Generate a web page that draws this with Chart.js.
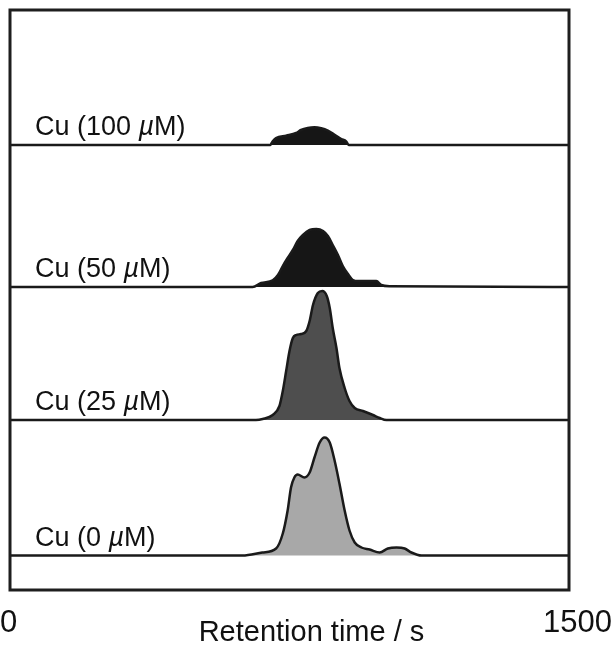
<!DOCTYPE html>
<html>
<head>
<meta charset="utf-8">
<script src="https://cdn.jsdelivr.net/npm/chart.js@4.4.1/dist/chart.umd.min.js"></script>
<style>
  html, body { margin: 0; background: #fff; }
  canvas { display: block; }
</style>
</head>
<body>
<canvas id="chrom" width="615" height="650"></canvas>
<script>
/* Cu-dependent retention chromatograms, stacked traces */

const concLabels  = ['0', '25', '50', '100'];      // µM, bottom to top
const traceOffset = [34.5, 170, 303, 445];         // vertical stacking, signal units

const cu0Time     = [0, 624, 677, 714, 732, 745, 754, 763, 772, 790, 804, 817, 831, 844, 858, 871, 884, 898, 911, 925, 943, 965, 992, 1014, 1037, 1059, 1077, 1104, 1500];
const cu0Signal   = [0, 0, 3, 7, 22, 45, 68, 78, 81, 78, 83, 98, 113, 118, 113, 95, 72, 45, 25, 13, 8, 6, 3, 7, 8, 7, 3, 0, 0];

const cu25Time    = [0, 660, 678, 705, 723, 732, 741, 750, 759, 768, 781, 795, 804, 813, 826, 838, 850, 858, 866, 876, 884, 898, 911, 925, 947, 974, 992, 1010, 1500];
const cu25Signal  = [0, 0, 1, 5, 14, 29, 49, 69, 82, 85, 86, 89, 99, 115, 127, 129, 124, 112, 92, 72, 52, 32, 19, 12, 9, 5, 2, 0, 0];

const cu50Time    = [0, 651, 674, 705, 719, 732, 745, 759, 772, 786, 804, 822, 840, 853, 866, 880, 893, 907, 920, 934, 983, 996, 1019, 1500];
const cu50Signal  = [0, 0, 4, 6.7, 12, 21, 29, 37, 46, 52, 57, 58, 56, 51, 42, 32, 21, 13, 7, 6, 6, 2, 0.7, 0];

const cu100Time   = [0, 698, 705, 714, 741, 768, 781, 799, 817, 835, 853, 871, 889, 902, 909, 1500];
const cu100Signal = [0, 0, 3.7, 7, 9.3, 12, 15, 17, 17.7, 16.7, 14.3, 10.3, 6, 3.7, 0, 0];

const xTicks = [0, 1500];

const traces = [
  { t: cu0Time,   s: cu0Signal,   fill: '#a8a8a8' },
  { t: cu25Time,  s: cu25Signal,  fill: '#4e4e4e' },
  { t: cu50Time,  s: cu50Signal,  fill: '#161616' },
  { t: cu100Time, s: cu100Signal, fill: '#161616' },
];

const FONT = '"Liberation Sans", Arial, Helvetica, sans-serif';

const datasets = traces.map((tr, i) => ({
  label: `Cu (${concLabels[i]} µM)`,
  data: tr.t.map((t, k) => ({ x: t, y: traceOffset[i] + tr.s[k] })),
  borderColor: '#1a1a1a',
  borderWidth: 2.5,
  backgroundColor: tr.fill,
  fill: { value: traceOffset[i] },
  pointRadius: 0,
  cubicInterpolationMode: 'monotone',
}));

// frame, trace labels and axis text
const frameText = {
  id: 'frameText',
  afterDatasetsDraw(chart) {
    const { ctx, chartArea: a, scales: { x, y } } = chart;
    ctx.save();
    ctx.strokeStyle = '#1e1e1e';
    ctx.lineWidth = 3;
    ctx.strokeRect(a.left, a.top, a.right - a.left, a.bottom - a.top);

    ctx.fillStyle = '#111';
    ctx.textBaseline = 'alphabetic';
    concLabels.forEach((c, i) => {
      const by = y.getPixelForValue(traceOffset[i]) - 10;
      let px = a.left + 25;
      const parts = [[`Cu (${c} `, 'normal'], ['µ', 'italic'], ['M)', 'normal']];
      parts.forEach(([txt, st]) => {
        ctx.font = `${st} 27px ${FONT}`;
        ctx.fillText(txt, px, by);
        px += ctx.measureText(txt).width;
      });
    });

    ctx.font = `31px ${FONT}`;
    ctx.textAlign = 'left';
    ctx.fillText(String(xTicks[0]), x.getPixelForValue(xTicks[0]) - 10, 632);
    ctx.textAlign = 'right';
    ctx.fillText(String(xTicks[1]), x.getPixelForValue(xTicks[1]) + 43, 632);
    ctx.font = `29px ${FONT}`;
    ctx.textAlign = 'center';
    ctx.fillText('Retention time / s', (a.left + a.right) / 2 + 22, 641);
    ctx.restore();
  }
};

new Chart(document.getElementById('chrom'), {
  type: 'line',
  data: { datasets },
  options: {
    responsive: false,
    animation: false,
    layout: { padding: { left: 10, top: 10, right: 46, bottom: 60 } },
    plugins: { legend: { display: false }, tooltip: { enabled: false } },
    scales: {
      x: { type: 'linear', min: 0, max: 1500, display: false },
      y: { type: 'linear', min: 0, max: 580, display: false },
    },
  },
  plugins: [frameText],
});
</script>
</body>
</html>
